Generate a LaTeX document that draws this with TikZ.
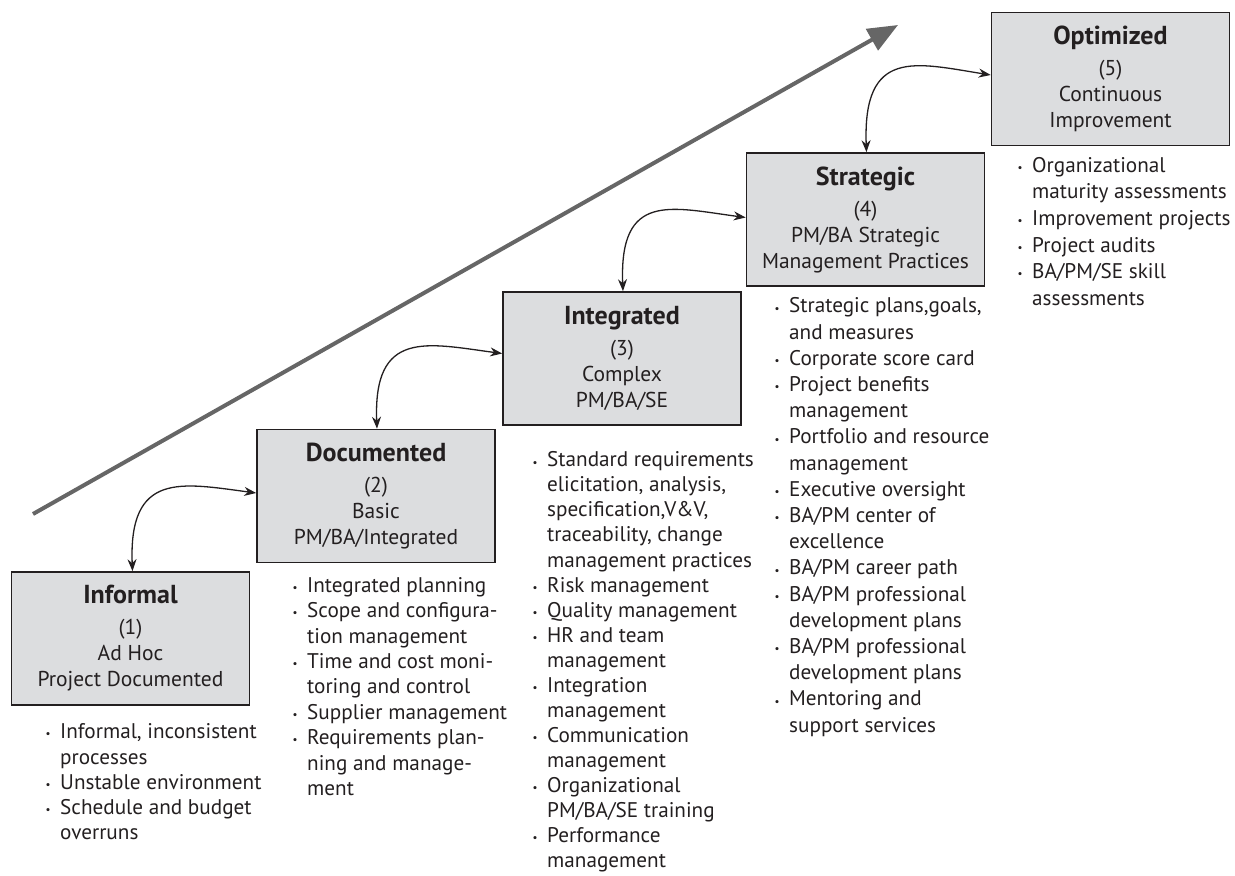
\documentclass[tikz,border=0pt]{standalone}
\usepackage{fontspec}
\setmainfont{PT Sans}
\usetikzlibrary{arrows.meta}
\definecolor{boxfill}{HTML}{DCDDDF}
\definecolor{ink}{HTML}{231F20}
\definecolor{trend}{HTML}{666666}
\newcommand\itm{\makebox[14.5pt][l]{\raisebox{0.8pt}{\fontsize{11}{11}\selectfont •}}}
\newcommand\cnt{\hspace*{14.5pt}}
\tikzset{
  levelbox/.style={draw=ink, line width=1.6pt, fill=boxfill, minimum width=238pt, minimum height=133pt,
    align=center, text=ink, inner sep=0pt, font=\fontsize{21.5}{26}\selectfont},
  itemlist/.style={anchor=north west, align=left, inner sep=0pt, text=ink},
  biarrow/.style={draw=ink, line width=1.3pt, {Stealth[length=12pt,width=9pt]}-{Stealth[length=12pt,width=9pt]}},
  trendarrow/.style={draw=trend, line width=4pt, -{Triangle[length=30pt,width=24pt]}}
}
\newcommand\ttl[1]{{\fontsize{26}{26}\selectfont\bfseries #1}\\[5pt]}
\begin{document}
\begin{tikzpicture}[x=1pt,y=-1pt]
\useasboundingbox (0,0) rectangle (1235,876);
% trend arrow
\coordinate (ts) at (33,514);
\coordinate (te) at (898,25);
\draw[trendarrow] (ts) -- (te);
% boxes
\node[levelbox] (b1) at (130.5,638.5) {\ttl{Informal}(1)\\Ad Hoc\\Project Documented};
\node[levelbox] (b2) at (376,496) {\ttl{Documented}(2)\\Basic\\PM/BA/Integrated};
\node[levelbox] (b3) at (622,358.5) {\ttl{Integrated}(3)\\Complex\\PM/BA/SE};
\node[levelbox] (b4) at (865.5,219.5) {\ttl{Strategic}(4)\\PM/BA Strategic\\Management Practices};
\node[levelbox] (b5) at (1110.5,79) {\ttl{Optimized}(5)\\Continuous\\Improvement};
% curved connectors
\draw[biarrow] ([xshift=2pt]b1.north) .. controls +(-4,-100) and +(-75,-10) .. ([yshift=3pt]b2.west);
\draw[biarrow] ([xshift=1pt]b2.north) .. controls +(-4,-100) and +(-75,-10) .. ([yshift=5pt]b3.west);
\draw[biarrow] ([xshift=1pt]b3.north) .. controls +(-4,-100) and +(-75,-10) .. ([yshift=2pt]b4.west);
\draw[biarrow] ([xshift=1pt]b4.north) .. controls +(-4,-105) and +(-75,-12) .. ([yshift=4pt]b5.west);
% lists
\node[itemlist, font=\fontsize{21.2}{25.3}\selectfont] (l1) at (45.5,723.5) {%
\itm Informal, inconsistent\\
\cnt processes\\
\itm Unstable environment\\
\itm Schedule and budget\\
\cnt overruns};
\node[itemlist, font=\fontsize{21.2}{25.4}\selectfont] (l2) at (292.5,577) {%
\itm Integrated planning\\
\itm Scope and configura-\\
\cnt tion management\\
\itm Time and cost moni-\\
\cnt toring and control\\
\itm Supplier management\\
\itm Requirements plan-\\
\cnt ning and manage-\\
\cnt ment};
\node[itemlist, font=\fontsize{21.2}{25.05}\selectfont] (l3) at (532.5,451.5) {%
\itm Standard requirements\\
\cnt elicitation, analysis,\\
\cnt specification,V\&V,\\
\cnt traceability, change\\
\cnt management practices\\
\itm Risk management\\
\itm Quality management\\
\itm HR and team\\
\cnt management\\
\itm Integration\\
\cnt management\\
\itm Communication\\
\cnt management\\
\itm Organizational\\
\cnt PM/BA/SE training\\
\itm Performance\\
\cnt management};
\node[itemlist, font=\fontsize{21.2}{26.2}\selectfont] (l4) at (774.5,297.5) {%
\itm Strategic plans,goals,\\
\cnt and measures\\
\itm Corporate score card\\
\itm Project benefits\\
\cnt management\\
\itm Portfolio and resource\\
\cnt management\\
\itm Executive oversight\\
\itm BA/PM center of\\
\cnt excellence\\
\itm BA/PM career path\\
\itm BA/PM professional\\
\cnt development plans\\
\itm BA/PM professional\\
\cnt development plans\\
\itm Mentoring and\\
\cnt support services};
\node[itemlist, font=\fontsize{21.2}{26.6}\selectfont] (l5) at (1017.5,157) {%
\itm Organizational\\
\cnt maturity assessments\\
\itm Improvement projects\\
\itm Project audits\\
\itm BA/PM/SE skill\\
\cnt assessments};
\end{tikzpicture}
\end{document}
